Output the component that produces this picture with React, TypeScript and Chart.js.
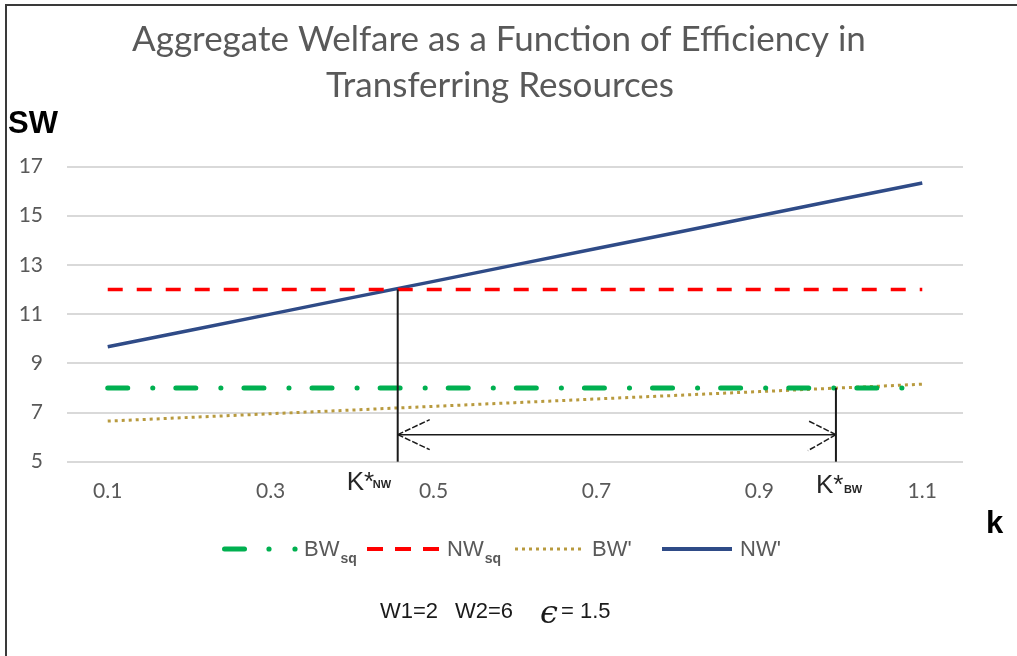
import React, { useEffect, useRef } from 'react';
import { Chart, registerables } from 'chart.js';

Chart.register(...registerables);

// ---- data ----
const kValues = [0.1, 0.2, 0.3, 0.4, 0.5, 0.6, 0.7, 0.8, 0.9, 1.0, 1.1];
const bwSq = [8, 8, 8, 8, 8, 8, 8, 8, 8, 8, 8];
const nwSq = [12, 12, 12, 12, 12, 12, 12, 12, 12, 12, 12];
const bwPrime = [6.65, 6.8, 6.95, 7.1, 7.25, 7.4, 7.55, 7.7, 7.85, 8.0, 8.15];
const nwPrime = [9.67, 10.33, 11.0, 11.67, 12.33, 13.0, 13.67, 14.33, 15.0, 15.67, 16.33];
const xTickValues = [0.1, 0.3, 0.5, 0.7, 0.9, 1.1];
const seriesNames = ['BW', 'NW', "BW'", "NW'"];
const titleLines = ['Aggregate Welfare as a Function of Efficiency in', 'Transferring Resources'];
const kStarNW = 0.456;
const kStarBW = 0.994;
const arrowLevel = 6.1;
const paramText = ['W1=2', 'W2=6', 'ϵ', '= 1.5'];

const COLORS = {
  bwSq: '#00b050',
  nwSq: '#ff0000',
  bwPrime: '#b89a3e',
  nwPrime: '#2f4b87',
  text: '#595959',
};

const toPoints = (vals: number[]) => vals.map((v, i) => ({ x: kValues[i], y: v }));

const decorations = {
  id: 'decorations',
  afterDatasetsDraw(chart: any) {
    const { ctx } = chart;
    const x = chart.scales.x;
    const y = chart.scales.y;
    const seg = (x1: number, y1: number, x2: number, y2: number) => {
      ctx.beginPath();
      ctx.moveTo(x1, y1);
      ctx.lineTo(x2, y2);
      ctx.stroke();
    };
    ctx.save();

    // title
    ctx.fillStyle = COLORS.text;
    ctx.font = '35px Lato';
    ctx.textAlign = 'center';
    ctx.textBaseline = 'alphabetic';
    ctx.fillText(titleLines[0], 499, 51);
    ctx.fillText(titleLines[1], 500, 97);

    // axis names
    ctx.fillStyle = '#000';
    ctx.textAlign = 'left';
    ctx.font = 'bold 31px "Liberation Sans"';
    ctx.fillText('SW', 8, 133);
    ctx.fillText('k', 986, 533);

    // K* vertical lines
    const xNW = x.getPixelForValue(kStarNW);
    const xBW = x.getPixelForValue(kStarBW);
    const y5 = y.getPixelForValue(5);
    ctx.strokeStyle = '#1a1a1a';
    ctx.lineWidth = 2;
    seg(xNW, y.getPixelForValue(12), xNW, y5);
    seg(xBW, y.getPixelForValue(8), xBW, y5);

    // double arrow
    const ya = y.getPixelForValue(arrowLevel);
    ctx.lineWidth = 1.5;
    seg(xNW, ya, xBW, ya);
    ctx.setLineDash([6, 2]);
    seg(xNW, ya, xNW + 32, ya - 15);
    seg(xNW, ya, xNW + 32, ya + 15);
    seg(xBW, ya, xBW - 28, ya - 14);
    seg(xBW, ya, xBW - 28, ya + 16);
    ctx.setLineDash([]);

    // K* labels
    ctx.fillStyle = '#262626';
    ctx.font = '26px "Liberation Sans"';
    ctx.fillText('K*', xNW - 51, 490);
    ctx.fillText('K*', xBW - 20, 493);
    ctx.font = 'bold 11px "Liberation Sans"';
    ctx.fillText('NW', xNW - 25, 488);
    ctx.fillText('BW', xBW + 8, 493);

    // legend
    const ly = 549;
    ctx.lineWidth = 5;
    ctx.strokeStyle = COLORS.bwSq;
    ctx.fillStyle = COLORS.bwSq;
    ctx.lineCap = 'round';
    seg(224.5, ly, 244.5, ly);
    ctx.beginPath();
    ctx.arc(269, ly, 2.6, 0, Math.PI * 2);
    ctx.arc(295, ly, 2.6, 0, Math.PI * 2);
    ctx.fill();
    ctx.lineCap = 'butt';
    ctx.lineWidth = 4;
    ctx.strokeStyle = COLORS.nwSq;
    ctx.setLineDash([16, 12]);
    seg(367, ly, 439, ly);
    ctx.lineWidth = 3;
    ctx.strokeStyle = COLORS.bwPrime;
    ctx.setLineDash([3, 4]);
    seg(515, ly, 583, ly);
    ctx.setLineDash([]);
    ctx.lineWidth = 4;
    ctx.strokeStyle = COLORS.nwPrime;
    seg(662, ly, 732, ly);

    ctx.fillStyle = COLORS.text;
    ctx.font = '22px "Liberation Sans"';
    const legendX = [304, 447, 592, 740];
    const w0 = ctx.measureText(seriesNames[0]).width;
    const w1 = ctx.measureText(seriesNames[1]).width;
    seriesNames.forEach((n, i) => ctx.fillText(n, legendX[i], 556));
    ctx.font = 'bold 14px "Liberation Sans"';
    ctx.fillText('sq', legendX[0] + w0 + 1, 563);
    ctx.fillText('sq', legendX[1] + w1 + 1, 563);

    // parameters
    ctx.fillStyle = '#1a1a1a';
    ctx.font = '22px "Liberation Sans"';
    ctx.fillText(paramText[0], 380, 618);
    ctx.fillText(paramText[1], 455, 618);
    ctx.fillText(paramText[3], 561, 618);
    ctx.font = 'italic 32px "DejaVu Serif"';
    ctx.fillText(paramText[2], 540, 623);

    ctx.restore();
  },
};

export default function App() {
  const canvasRef = useRef<HTMLCanvasElement | null>(null);

  useEffect(() => {
    if (!canvasRef.current) return;
    const chart = new Chart(canvasRef.current, {
      type: 'line',
      data: {
        datasets: [
          {
            label: 'BWsq',
            data: toPoints(bwSq),
            borderColor: COLORS.bwSq,
            borderWidth: 5,
            borderDash: [20, 25, 0.1, 23],
            borderCapStyle: 'round',
            pointRadius: 0,
            fill: false,
          },
          {
            label: 'NWsq',
            data: toPoints(nwSq),
            borderColor: COLORS.nwSq,
            borderWidth: 3.5,
            borderDash: [15, 14],
            pointRadius: 0,
            fill: false,
          },
          {
            label: "BW'",
            data: toPoints(bwPrime),
            borderColor: COLORS.bwPrime,
            borderWidth: 3,
            borderDash: [3, 4],
            pointRadius: 0,
            fill: false,
          },
          {
            label: "NW'",
            data: toPoints(nwPrime),
            borderColor: COLORS.nwPrime,
            borderWidth: 3.5,
            pointRadius: 0,
            fill: false,
          },
        ],
      },
      options: {
        responsive: false,
        animation: false,
        events: [],
        layout: { padding: { top: 166.5, left: 0, right: 54, bottom: 154.3 } },
        plugins: { legend: { display: false }, tooltip: { enabled: false }, title: { display: false } },
        scales: {
          x: {
            type: 'linear',
            min: 0.05,
            max: 1.15,
            afterBuildTicks: (s: any) => {
              s.ticks = xTickValues.map((v) => ({ value: v }));
            },
            afterFit: (s: any) => {
              s.height = 40;
            },
            grid: { display: false, drawTicks: false },
            border: { display: false },
            ticks: {
              autoSkip: false,
              maxRotation: 0,
              padding: 17,
              color: COLORS.text,
              font: { family: 'Lato', size: 21 },
              callback: (v: any) => Number(v).toFixed(1),
            },
          },
          y: {
            min: 5,
            max: 17,
            afterFit: (s: any) => {
              s.width = 67;
            },
            grid: { color: '#d9d9d9', lineWidth: 2, drawTicks: false },
            border: { display: false },
            ticks: {
              stepSize: 2,
              padding: 24,
              color: COLORS.text,
              font: { family: 'Lato', size: 21 },
            },
          },
        },
      },
      plugins: [decorations],
    } as any);
    return () => chart.destroy();
  }, []);

  return (
    <div style={{ position: 'fixed', left: 0, top: 0, width: 1017, height: 656, background: '#fff' }}>
      <canvas ref={canvasRef} width={1017} height={656} style={{ width: 1017, height: 656, display: 'block' }} />
      <div
        style={{
          position: 'absolute',
          left: 5,
          top: 4,
          right: 0,
          bottom: 0,
          borderTop: '2px solid #3a3a3a',
          borderLeft: '2px solid #3a3a3a',
          pointerEvents: 'none',
        }}
      />
    </div>
  );
}
